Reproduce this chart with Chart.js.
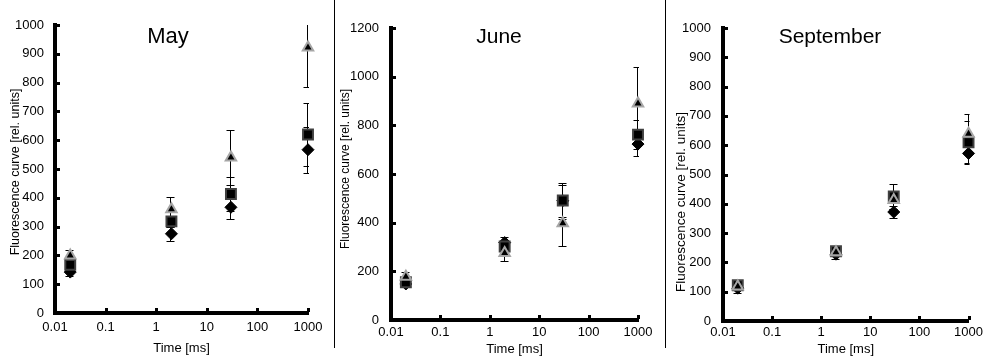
<!DOCTYPE html>
<html>
<head>
<meta charset="utf-8">
<title>Fluorescence curve</title>
<script src="https://cdn.jsdelivr.net/npm/chart.js@4.4.1/dist/chart.umd.min.js"></script>
<style>
    body { margin: 0; background: #fff; }
    #wrap { position: relative; width: 987px; height: 356px; background: #fff; overflow: hidden; }
    #wrap canvas { position: absolute; top: 0; }
    .divider { position: absolute; top: 0; width: 1px; height: 348px; background: #000; }
</style>
</head>
<body>
<div id="wrap">
    <canvas id="chartMay" width="334" height="356" style="left:0"></canvas>
    <div class="divider" style="left:334px"></div>
    <canvas id="chartJune" width="330" height="356" style="left:335px"></canvas>
    <div class="divider" style="left:665px"></div>
    <canvas id="chartSeptember" width="321" height="356" style="left:666px"></canvas>
</div>
<script>
//==========Data===========
const times = [0.02, 2, 30, 1000];
const xTickValues = [0.01, 0.1, 1, 10, 100, 1000];
const xTickLabels = ['0.01', '0.1', '1', '10', '100', '1000'];

const mayDiamond = [142, 275, 367, 567];
const mayDiamondErr = [15, 25, 40, 80];
const maySquare = [167, 318, 413, 620];
const maySquareErr = [15, 20, 58, 110];
const mayTriangle = [200, 360, 540, 922];
const mayTriangleErr = [18, 42, 95, 138];

const juneDiamond = [148, 318, 490, 723];
const juneDiamondErr = [14, 22, 66, 47];
const juneSquare = [155, 302, 491, 762];
const juneSquareErr = [12, 20, 74, 58];
const juneTriangle = [178, 275, 398, 890];
const juneTriangleErr = [20, 33, 93, 148];

const sepDiamond = [112, 228, 372, 572];
const sepDiamondErr = [15, 18, 20, 33];
const sepSquare = [122, 238, 425, 610];
const sepSquareErr = [8, 10, 44, 74];
const sepTriangle = [118, 235, 413, 639];
const sepTriangleErr = [6, 8, 30, 67];

const FONT = "'Liberation Sans', Arial, sans-serif";
Chart.defaults.font.family = FONT;
Chart.defaults.color = '#000';

const markerStyles = {
    diamond: { pointStyle: 'rectRot', radius: 6, bg: '#000', border: '#000', borderWidth: 1, order: 3 },
    square: { pointStyle: 'rect', radius: 7, bg: '#000', border: '#404040', borderWidth: 2, order: 2 },
    triangle: { pointStyle: 'triangle', radius: 6, bg: '#000', border: '#a6a6a6', borderWidth: 2, order: 1 }
};

//==========Plugins===========
const errorBars = {
    id: 'errorBars',
    beforeDatasetsDraw(chart) {
        const ctx = chart.ctx, area = chart.chartArea;
        const xs = chart.scales.x, ys = chart.scales.y;
        ctx.save();
        ctx.beginPath();
        // caps at the last category get cut at the plot edge, like the original
        ctx.rect(area.left, area.top, area.right - area.left + 1, area.bottom - area.top);
        ctx.clip();
        ctx.strokeStyle = '#000';
        ctx.lineWidth = 1;
        chart.data.datasets.forEach(function (ds) {
            ds.data.forEach(function (pt, i) {
                const err = ds.errors[i];
                const px = Math.round(xs.getPixelForValue(pt.x)) - 0.5;
                const top = Math.round(ys.getPixelForValue(pt.y + err)) + 0.5;
                const bot = Math.round(ys.getPixelForValue(pt.y - err)) + 0.5;
                ctx.beginPath();
                ctx.moveTo(px, top);
                ctx.lineTo(px, bot);
                ctx.moveTo(px - 4, top);
                ctx.lineTo(px + 4, top);
                ctx.moveTo(px - 4, bot);
                ctx.lineTo(px + 4, bot);
                ctx.stroke();
            });
        });
        ctx.restore();
    }
};

const axisTicks = {
    id: 'axisTicks',
    afterDraw(chart) {
        const ctx = chart.ctx, area = chart.chartArea;
        ctx.save();
        ctx.fillStyle = '#000';
        chart.scales.y.ticks.forEach(function (t) {
            const py = Math.round(chart.scales.y.getPixelForValue(t.value));
            ctx.fillRect(area.left + 1, py - 1, 4, 3);
        });
        chart.scales.x.ticks.forEach(function (t) {
            const px = Math.round(chart.scales.x.getPixelForValue(t.value));
            ctx.fillRect(px - 1, area.bottom - 5, 3, 4);
        });
        ctx.restore();
    }
};

const panelText = {
    id: 'panelText',
    afterDraw(chart, args, opts) {
        const ctx = chart.ctx;
        ctx.save();
        ctx.fillStyle = '#000';
        ctx.textAlign = 'center';
        ctx.textBaseline = 'alphabetic';
        ctx.font = opts.titleSize + 'px ' + FONT;
        ctx.fillText(opts.title, opts.titleX, opts.titleY);
        ctx.translate(opts.yTitleX, opts.yTitleY);
        ctx.rotate(-Math.PI / 2);
        ctx.textBaseline = 'middle';
        ctx.font = opts.yTitleSize + 'px ' + FONT;
        ctx.fillText(opts.yTitle, 0, 0);
        ctx.restore();
    }
};

//==========Chart===========
function makeDataset(name, values, errors) {
    const st = markerStyles[name];
    return {
        label: name,
        data: times.map(function (t, i) { return { x: t, y: values[i] }; }),
        errors: errors,
        showLine: false,
        clip: false,
        order: st.order,
        pointStyle: st.pointStyle,
        pointRadius: st.radius,
        pointHoverRadius: st.radius,
        pointBackgroundColor: st.bg,
        pointBorderColor: st.border,
        pointBorderWidth: st.borderWidth,
        pointHoverBorderWidth: st.borderWidth
    };
}

function makePanel(canvasId, datasets, p) {
    return new Chart(document.getElementById(canvasId), {
        type: 'scatter',
        data: { datasets: datasets },
        options: {
            responsive: false,
            devicePixelRatio: 1,
            animation: false,
            events: [],
            layout: { padding: { left: 0, top: p.top, right: p.right, bottom: 0 } },
            scales: {
                x: {
                    type: 'logarithmic',
                    min: 0.01,
                    max: 1000,
                    afterBuildTicks: function (s) { s.ticks = xTickValues.map(function (v) { return { value: v }; }); },
                    afterFit: function (s) { s.height = p.xHeight; },
                    grid: { display: false, drawTicks: false },
                    border: { display: true, color: '#000', width: 4 },
                    ticks: {
                        autoSkip: false,
                        maxRotation: 0,
                        padding: p.xPad,
                        font: { size: 13 },
                        callback: function (v, i) { return xTickLabels[i]; }
                    },
                    title: {
                        display: true,
                        text: 'Time [ms]',
                        font: { size: 13, lineHeight: 1 },
                        padding: { top: 0, bottom: p.xTitlePad }
                    }
                },
                y: {
                    min: 0,
                    max: p.yMax,
                    afterFit: function (s) { s.width = p.yWidth; },
                    grid: { display: false, drawTicks: false },
                    border: { display: true, color: '#000', width: 4 },
                    ticks: {
                        stepSize: p.yStep,
                        padding: p.yPad,
                        font: { size: 13 },
                        callback: function (v) { return String(v); }
                    }
                }
            },
            plugins: {
                legend: { display: false },
                tooltip: { enabled: false },
                panelText: {
                    title: p.title, titleX: p.titleX, titleY: 43, titleSize: p.titleSize,
                    yTitle: 'Fluorescence curve [rel. units]',
                    yTitleX: p.yTitleX, yTitleY: p.yTitleY, yTitleSize: p.yTitleSize
                }
            }
        },
        plugins: [errorBars, axisTicks, panelText]
    });
}

makePanel('chartMay', [
    makeDataset('diamond', mayDiamond, mayDiamondErr),
    makeDataset('square', maySquare, maySquareErr),
    makeDataset('triangle', mayTriangle, mayTriangleErr)
], { top: 25, right: 26, xHeight: 43, yWidth: 55, xPad: 7, yPad: 11, xTitlePad: 1.5, yMax: 1000, yStep: 100,
     title: 'May', titleX: 168, titleSize: 22, yTitleX: 15.5, yTitleY: 172, yTitleSize: 12.5 });

makePanel('chartJune', [
    makeDataset('diamond', juneDiamond, juneDiamondErr),
    makeDataset('square', juneSquare, juneSquareErr),
    makeDataset('triangle', juneTriangle, juneTriangleErr)
], { top: 28, right: 27, xHeight: 36, yWidth: 56, xPad: 5, yPad: 12, xTitlePad: 0, yMax: 1200, yStep: 200,
     title: 'June', titleX: 164, titleSize: 21, yTitleX: 10.5, yTitleY: 169, yTitleSize: 12 });

makePanel('chartSeptember', [
    makeDataset('diamond', sepDiamond, sepDiamondErr),
    makeDataset('square', sepSquare, sepSquareErr),
    makeDataset('triangle', sepTriangle, sepTriangleErr)
], { top: 28, right: 16, xHeight: 35, yWidth: 57, xPad: 4, yPad: 12, xTitlePad: 0, yMax: 1000, yStep: 100,
     title: 'September', titleX: 164, titleSize: 21, yTitleX: 15, yTitleY: 202, yTitleSize: 13.5 });
</script>
</body>
</html>
